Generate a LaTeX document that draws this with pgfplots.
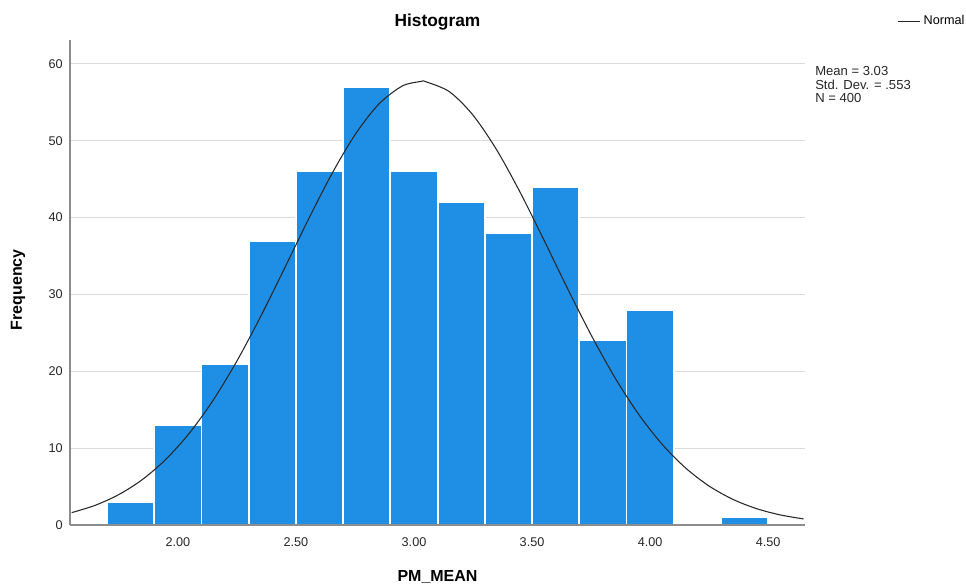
\documentclass[border=0pt]{standalone}
\usepackage{fontspec}
\setmainfont{Liberation Sans}
\usepackage{pgfplots}
\pgfplotsset{compat=1.18}
\definecolor{barblue}{RGB}{30,143,228}
\definecolor{gridgray}{RGB}{218,218,218}
\definecolor{axisgray}{RGB}{140,140,140}
\definecolor{curvegray}{RGB}{40,40,40}

\begin{document}
\begin{tikzpicture}[x=0.75pt,y=0.75pt]
\useasboundingbox (0,0) rectangle (966,585);
\begin{axis}[
  at={(52.5pt,45pt)}, anchor=south west,
  scale only axis, width=551.25pt, height=363.75pt,
  xmin=1.543, xmax=4.656, ymin=0, ymax=63.1,
  axis lines*=left,
  axis line style={axisgray, line width=0.9pt},
  xtick={2,2.5,3,3.5,4,4.5},
  ytick={0,10,...,60},
  major tick length=0pt,
  ymajorgrids,
  major grid style={gridgray, line width=0.9pt},
  xticklabel style={/pgf/number format/.cd, fixed, zerofill, precision=2},
  tick label style={font=\fontsize{9.5}{11}\selectfont, text=black!85},
  /pgf/number format/assume math mode=true,
  xticklabel shift=6.2pt,
  yticklabel shift=2pt,
  title={\bfseries Histogram},
  title style={at={(axis description cs:0.5,1.0205)}, anchor=center,
               font=\fontsize{13}{15}\selectfont},
  xlabel={PM\_MEAN},
  xlabel style={at={(axis description cs:0.5,-0.107)}, anchor=center,
                font=\fontsize{12}{14}\selectfont\bfseries},
  ylabel={Frequency},
  ylabel style={at={(axis description cs:-0.0707,0.485)}, anchor=center,
                font=\fontsize{12}{14}\selectfont\bfseries},
  legend style={at={(axis description cs:1.125,1.039)}, anchor=west,
                draw=none, fill=none, inner sep=0pt,
                font=\fontsize{9.5}{11}\selectfont},
  clip=true,
]
% frequencies per bin (bin width 0.20)
\addplot[ybar, bar width=0.2, bar shift=0pt, fill=barblue, draw=white,
         line width=1.4pt, forget plot] coordinates {
  (1.8,3) (2.0,13) (2.2,21) (2.4,37) (2.6,46) (2.8,57) (3.0,46)
  (3.2,42) (3.4,38) (3.6,44) (3.8,24) (4.0,28) (4.4,1)
};
% fitted normal curve, N*h*pdf with mean 3.03, sd .553
\addplot[curvegray, line width=0.8pt, smooth] coordinates {
  (1.55,1.607) (1.65,2.565) (1.75,3.962) (1.85,5.924) (1.95,8.571)
  (2.05,12.00) (2.15,16.27) (2.25,21.34) (2.35,27.10) (2.45,33.30)
  (2.55,39.59) (2.65,45.57) (2.75,50.77) (2.85,54.73) (2.95,57.11)
  (3.03,57.71) (3.05,57.67) (3.15,56.37) (3.25,53.32) (3.35,48.81)
  (3.45,43.25) (3.55,37.09) (3.65,30.78) (3.75,24.73) (3.85,19.22)
  (3.95,14.46) (4.05,10.53) (4.15,7.423) (4.25,5.063) (4.35,3.343)
  (4.45,2.136) (4.55,1.320) (4.65,0.790)
};
\addlegendentry{Normal}
\draw[axisgray, line width=0.9pt] (rel axis cs:0,0) -- (rel axis cs:1,0);
\end{axis}
\node[anchor=north west, inner sep=0pt, align=left,
      font=\fontsize{9.8}{10.3}\selectfont, text=black!85] at (815,519)
  {Mean = 3.03\\Std. Dev. = .553\\N = 400};
\end{tikzpicture}
\end{document}
